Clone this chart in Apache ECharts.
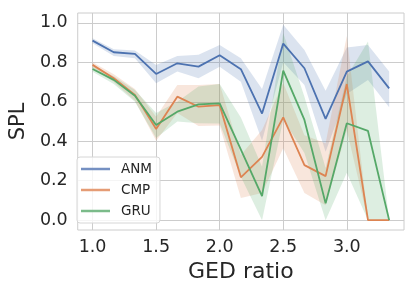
<!DOCTYPE html>
<html><head><meta charset="utf-8">
<script src="https://cdn.jsdelivr.net/npm/echarts@6/dist/echarts.min.js"></script>
<style>html,body{margin:0;padding:0;background:#fff}#c{width:417px;height:289px}</style>
</head><body><div id="c"></div>
<script>
const gedRatio = [1.0, 1.1667, 1.3333, 1.5, 1.6667, 1.8333, 2.0, 2.1667, 2.3333, 2.5, 2.6667, 2.8333, 3.0, 3.1667, 3.3333];
const xTicks = [1.0, 1.5, 2.0, 2.5, 3.0];
const yTicks = [0.0, 0.2, 0.4, 0.6, 0.8, 1.0];

const anmMean  = [0.910, 0.851, 0.843, 0.741, 0.795, 0.778, 0.836, 0.765, 0.540, 0.895, 0.770, 0.513, 0.753, 0.805, 0.668];
const anmUpper = [0.922, 0.866, 0.860, 0.787, 0.832, 0.838, 0.888, 0.820, 0.665, 0.990, 0.863, 0.656, 0.875, 0.888, 0.753];
const anmLower = [0.897, 0.832, 0.820, 0.694, 0.753, 0.719, 0.778, 0.702, 0.403, 0.800, 0.685, 0.347, 0.640, 0.711, 0.572];

const cmpMean  = [0.787, 0.719, 0.635, 0.462, 0.626, 0.575, 0.583, 0.217, 0.321, 0.521, 0.279, 0.223, 0.690, 0.0, 0.0];
const cmpUpper = [0.800, 0.740, 0.665, 0.524, 0.685, 0.685, 0.690, 0.330, 0.457, 0.695, 0.430, 0.390, 0.934, 0.0, 0.0];
const cmpLower = [0.772, 0.700, 0.605, 0.403, 0.543, 0.477, 0.480, 0.112, 0.137, 0.365, 0.137, 0.076, 0.457, 0.0, 0.0];

const gruMean  = [0.766, 0.711, 0.631, 0.482, 0.550, 0.587, 0.592, 0.357, 0.122, 0.758, 0.508, 0.085, 0.491, 0.452, 0.0];
const gruUpper = [0.780, 0.730, 0.660, 0.543, 0.600, 0.677, 0.690, 0.520, 0.270, 0.948, 0.626, 0.264, 0.728, 0.905, 0.0];
const gruLower = [0.752, 0.690, 0.600, 0.416, 0.500, 0.491, 0.490, 0.220, 0.000, 0.510, 0.340, 0.000, 0.240, 0.000, 0.0];

const COLORS = {ANM: '#4C72B0', CMP: '#DD8452', GRU: '#55A868'};
const LEGEND_COLORS = {ANM: '#7590c2', CMP: '#e59c75', GRU: '#7bbb8a'};
const FONT = 'DejaVu Sans';

function band(name, upper, lower) {
  return {
    type: 'custom', name: name + '_band', silent: true, z: 1,
    data: gedRatio.map((v, i) => [v, upper[i], lower[i]]),
    encode: {x: 0, y: [1, 2]},
    renderItem: function (params, api) {
      if (params.dataIndex !== 0) return null;
      const pts = [];
      for (let i = 0; i < gedRatio.length; i++) pts.push(api.coord([gedRatio[i], upper[i]]));
      for (let i = gedRatio.length - 1; i >= 0; i--) pts.push(api.coord([gedRatio[i], lower[i]]));
      return {type: 'polygon', shape: {points: pts}, style: {fill: COLORS[name], opacity: 0.2}};
    }
  };
}
function line(name, mean) {
  return {
    type: 'line', name: name, z: 3, showSymbol: false, symbol: 'none',
    data: gedRatio.map((v, i) => [v, mean[i]]),
    lineStyle: {color: COLORS[name], width: 1.8},
    itemStyle: {color: LEGEND_COLORS[name]}
  };
}

const chart = echarts.init(document.getElementById('c'), null, {renderer: 'canvas'});
chart.setOption({
  animation: false,
  backgroundColor: '#ffffff',
  grid: {left: 69, right: 13, top: 13, bottom: 59, show: true, borderColor: '#cccccc', borderWidth: 1, backgroundColor: 'transparent'},
  xAxis: {
    type: 'value', min: 0.8833, max: 3.45,
    name: 'GED ratio', nameLocation: 'middle', nameGap: 28,
    nameTextStyle: {fontFamily: FONT, fontSize: 22, color: '#262626'},
    axisLine: {show: false}, axisTick: {show: false, customValues: xTicks},
    axisLabel: {customValues: xTicks, formatter: v => v.toFixed(1), fontFamily: FONT, fontSize: 17.5, color: '#262626', margin: 8},
    splitLine: {show: true, lineStyle: {color: '#cccccc', width: 1}}
  },
  yAxis: {
    type: 'value', min: -0.05, max: 1.05,
    name: 'SPL', nameLocation: 'middle', nameGap: 43,
    nameTextStyle: {fontFamily: FONT, fontSize: 21, color: '#262626'},
    axisLine: {show: false}, axisTick: {show: false, customValues: yTicks},
    axisLabel: {customValues: yTicks, formatter: v => v.toFixed(1), fontFamily: FONT, fontSize: 17.5, color: '#262626', margin: 10},
    splitLine: {show: true, lineStyle: {color: '#cccccc', width: 1}}
  },
  legend: {
    data: ['ANM', 'CMP', 'GRU'], orient: 'vertical', left: 77, top: 157,
    icon: 'rect', itemWidth: 29, itemHeight: 2.5, itemGap: 7,
    padding: [5, 8, 5, 4],
    backgroundColor: 'rgba(255,255,255,0.8)', borderColor: '#d6d6d6', borderWidth: 1, borderRadius: 3,
    textStyle: {fontFamily: FONT, fontSize: 13.5, color: '#262626', padding: [0, 0, 0, 6], lineHeight: 14}
  },
  series: [
    band('ANM', anmUpper, anmLower), line('ANM', anmMean),
    band('CMP', cmpUpper, cmpLower), line('CMP', cmpMean),
    band('GRU', gruUpper, gruLower), line('GRU', gruMean)
  ]
});
</script></body></html>
